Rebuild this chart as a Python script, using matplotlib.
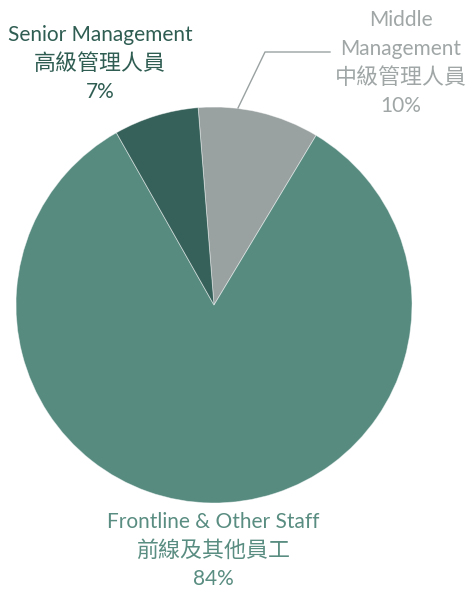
import matplotlib.pyplot as plt

# Staff composition
labels_en = ["Middle\nManagement", "Frontline & Other Staff", "Senior Management"]
labels_zh = ["中級管理人員", "前線及其他員工", "高級管理人員"]
shares = [10, 84, 7]
colors = ["#9aa1a1", "#578b80", "#36615a"]
text_colors = ["#a0a6a6", "#5a8d81", "#2f5d52"]

plt.rcParams['font.family'] = ['Lato', 'Noto Sans CJK TC', 'DejaVu Sans']

W, H = 473, 594
fig = plt.figure(figsize=(W / 100, H / 100), dpi=100)

# pie centred at (214, 305) px, radius 198 px
cx, cy, r = 214, 305, 198
ax = fig.add_axes([(cx - r) / W, (H - cy - r) / H, 2 * r / W, 2 * r / H])
ax.pie(shares, colors=colors, startangle=94.6, counterclock=False,
       wedgeprops=dict(linewidth=0.6, edgecolor=(1, 1, 1, 0.5)))
ax.set_xlim(-1, 1)
ax.set_ylim(-1, 1)
ax.set_aspect("equal")


def label(x, y, lines, color):
    # place each line separately, y in pixel from top
    for i, s in enumerate(lines):
        size = 15.8 if s in labels_zh else 15
        fig.text(x / W, 1 - (y + i * 28.7) / H, s, ha="center", va="center",
                 fontsize=size, color=color)


label(100, 35, ["Senior Management", labels_zh[2], f"{shares[2]}%"], text_colors[2])
label(401, 20, ["Middle", "Management", labels_zh[0], f"{shares[0]}%"], text_colors[0])
label(213, 522, [labels_en[1], labels_zh[1], f"{shares[1]}%"], text_colors[1])

# leader line for middle management
fig.add_artist(plt.Line2D([238 / W, 265 / W, 330 / W],
                          [1 - 108 / H, 1 - 52 / H, 1 - 52 / H],
                          color="#9aa1a1", linewidth=1.0))

fig.savefig("out.png", dpi=100)
